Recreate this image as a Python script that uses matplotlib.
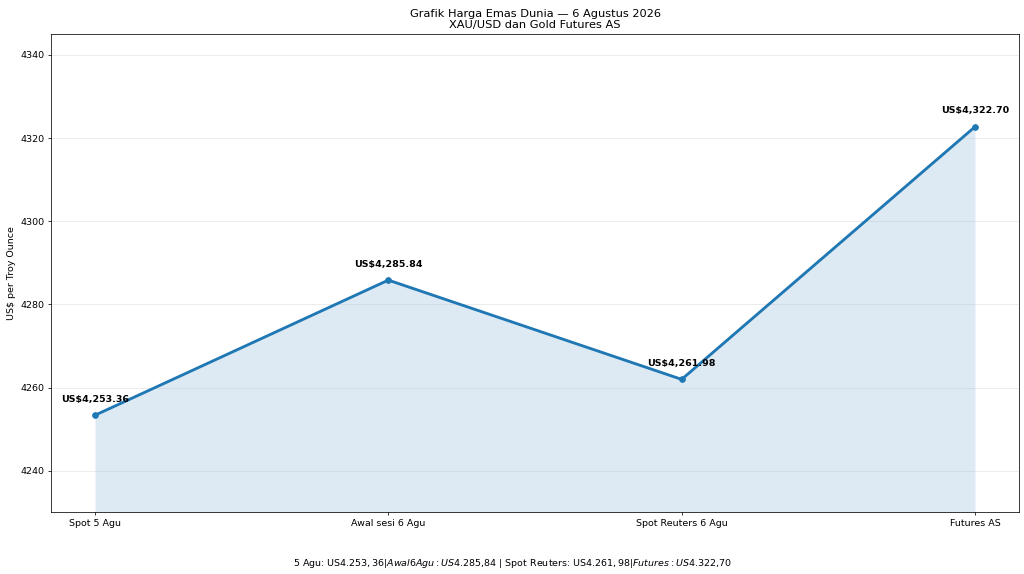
import matplotlib
matplotlib.use("Agg")
import matplotlib.pyplot as plt

categories = ["Spot 5 Agu", "Awal sesi 6 Agu", "Spot Reuters 6 Agu", "Futures AS"]
prices = [4253.36, 4285.84, 4261.98, 4322.70]
labels = ["US$4,253.36", "US$4,285.84", "US$4,261.98", "US$4,322.70"]
footer = "5 Agu: US$4.253,36 | Awal 6 Agu: US$4.285,84 | Spot Reuters: US$4.261,98 | Futures: US$4.322,70"

DPI = 1024 / 15
fig, ax = plt.subplots(figsize=(15, 574 / DPI), dpi=DPI)
x = list(range(len(categories)))
ymin, ymax = 4230.1, 4345.0
ax.plot(x, prices, marker="o", color="#1f77b4", linewidth=3, markersize=6)
ax.fill_between(x, prices, ymin, color="#1f77b4", alpha=0.15, linewidth=0)
for xi, p, lab in zip(x, prices, labels):
    ax.annotate(lab, (xi, p), textcoords="offset points", xytext=(0, 14),
                ha="center", fontsize=10, fontweight="bold")
ax.set_ylim(ymin, ymax)
ax.set_xlim(-0.15, 3.15)
ax.set_xticks(x)
ax.set_xticklabels(categories)
ax.set_yticks([4240, 4260, 4280, 4300, 4320, 4340])
ax.set_ylabel("US$ per Troy Ounce")
ax.set_title("Grafik Harga Emas Dunia — 6 Agustus 2026\nXAU/USD dan Gold Futures AS", fontsize=12)
ax.grid(axis="y", alpha=0.3)
fig.text(0.5, 0.014, footer, ha="center", fontsize=10)
fig.subplots_adjust(left=51 / 1024, right=1019 / 1024, top=1 - 34 / 574, bottom=1 - 512 / 574)
fig.savefig("out.png", dpi=DPI)
